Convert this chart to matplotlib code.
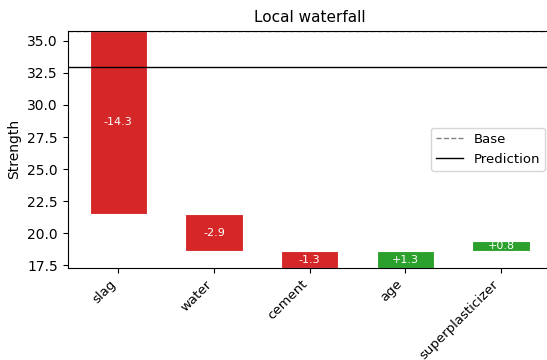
import numpy as np
import matplotlib.pyplot as plt

# feature contributions for one sample
features = ["slag", "water", "cement", "age", "superplasticizer"]
contrib = [-14.3, -2.9, -1.3, 1.3, 0.8]
base_value = 35.8
prediction = 33.0

# running totals for the waterfall
starts = base_value + np.concatenate([[0], np.cumsum(contrib)[:-1]])
ends = starts + np.array(contrib)

fig = plt.figure(figsize=(5.47, 3.6), dpi=100)
ax = fig.add_axes([0.1235, 0.256, 0.885, 0.659])

colors = ["#d62728" if c < 0 else "#2ca02c" for c in contrib]
x = np.arange(len(features))
bottoms = np.minimum(starts, ends)
heights = np.abs(contrib)
ax.bar(x, heights, bottom=bottoms, width=0.6, color=colors,
       edgecolor="white", linewidth=0.8)

for xi, b, h, c in zip(x, bottoms, heights, contrib):
    ax.text(xi, b + h / 2, f"{c:+.1f}", ha="center", va="center",
            color="white", fontsize=8)

ax.axhline(base_value, color="grey", linestyle="--", linewidth=1, label="Base")
ax.axhline(prediction, color="black", linestyle="-", linewidth=1, label="Prediction")

ax.set_xticks(x)
ax.set_xticklabels(features, rotation=45, ha="right", fontsize=9.5)
ax.set_ylim(min(ends.min(), base_value), max(starts.max(), base_value))
ax.spines["right"].set_visible(False)
ax.set_ylabel("Strength")
ax.set_title("Local waterfall", fontsize=11)
ax.legend(loc="center right", fontsize=9.5)

fig.savefig("out.png", dpi=100)
